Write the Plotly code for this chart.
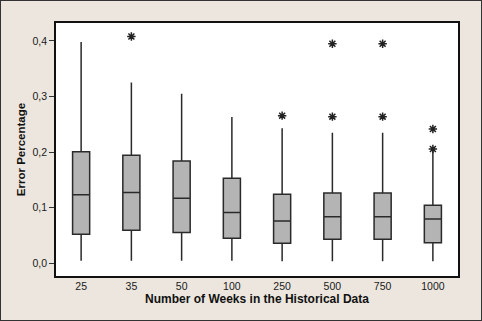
import plotly.graph_objects as go

categories = ["25", "35", "50", "100", "250", "500", "750", "1000"]
lower = [0.004, 0.004, 0.004, 0.004, 0.003, 0.003, 0.003, 0.003]
q1 = [0.052, 0.059, 0.055, 0.0445, 0.0354, 0.0426, 0.0426, 0.0366]
median = [0.123, 0.127, 0.1165, 0.091, 0.0757, 0.0835, 0.0835, 0.0793]
q3 = [0.2005, 0.194, 0.184, 0.1526, 0.1237, 0.126, 0.126, 0.104]
upper = [0.398, 0.325, 0.305, 0.263, 0.2427, 0.2348, 0.2348, 0.203]
outlier_cat = ["35", "250", "500", "500", "750", "750", "1000", "1000"]
outlier_val = [0.408, 0.2655, 0.395, 0.2637, 0.395, 0.2637, 0.2414, 0.2054]
ytick_vals = [0.0, 0.1, 0.2, 0.3, 0.4]
ytick_text = ["0,0", "0,1", "0,2", "0,3", "0,4"]

fig = go.Figure()
fig.add_trace(go.Box(
    x=categories, q1=q1, median=median, q3=q3,
    lowerfence=lower, upperfence=upper,
    fillcolor="#B4B4B4", line=dict(color="#2a2a2a", width=1.5),
    whiskerwidth=0, width=0.34, boxpoints=False, showlegend=False,
))
fig.add_trace(go.Scatter(
    x=outlier_cat, y=outlier_val, mode="markers",
    marker=dict(symbol="asterisk-open", size=7, color="#222",
                line=dict(color="#222", width=1.5)),
    showlegend=False,
))

font = "Liberation Sans, Arial, sans-serif"
fig.update_layout(
    width=482, height=321,
    margin=dict(l=56, r=24, t=23, b=45),
    paper_bgcolor="#ECE6DE", plot_bgcolor="white",
    font=dict(family=font, size=10, color="#1a1a1a"),
    xaxis=dict(
        type="category", categoryorder="array", categoryarray=categories,
        range=[-0.5, 7.5], showgrid=False, zeroline=False,
        showline=True, linecolor="#111", linewidth=1.5, mirror=True,
        ticks="", tickfont=dict(size=10.5, color="#1a1a1a"),
        title=dict(text="<b>Number of Weeks in the Historical Data</b>",
                   font=dict(size=12, color="#111"), standoff=3),
    ),
    yaxis=dict(
        range=[-0.0234, 0.4324], tickvals=ytick_vals, ticktext=ytick_text,
        showgrid=False, zeroline=False,
        showline=True, linecolor="#111", linewidth=1.5, mirror=True,
        ticks="outside", ticklen=5, tickcolor="#333",
        tickfont=dict(size=10.5, color="#1a1a1a"),
        title=dict(text="<b>Error Percentage</b>",
                   font=dict(size=11.5, color="#111"), standoff=5),
    ),
)
fig.add_shape(type="rect", xref="paper", yref="paper",
              x0=-56/402, x1=1+24/402, y0=-45/253, y1=1+23/253,
              line=dict(color="#333", width=2))

fig.write_html("out.html", config={"displayModeBar": False},
               post_script="document.body.style.margin='0';")
